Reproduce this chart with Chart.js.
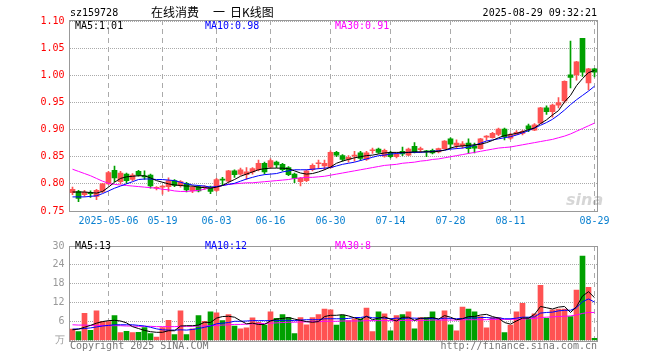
<!DOCTYPE html>
<html>
<head>
<meta charset="utf-8">
<script src="https://cdn.jsdelivr.net/npm/chart.js@4/dist/chart.umd.min.js"></script>
<style>
  body { margin: 0; background: #fff; width: 660px; height: 360px; position: relative; overflow: hidden;
         font-family: "DejaVu Sans Mono", monospace; font-size: 10px; }
  canvas { position: absolute; left: 0; }
  .t { position: absolute; line-height: 12px; height: 12px; white-space: pre; }
  .cjk { font-family: "Noto Sans CJK SC", sans-serif; font-size: 12px; }
</style>
</head>
<body>
<canvas id="kline" width="660" height="235" style="top:0"></canvas>
<canvas id="vol" width="660" height="125" style="top:235px"></canvas>

<div class="t" style="left:70px;top:7px">sz159728</div>
<div class="t cjk" style="left:151px;top:6px">在线消费</div>
<div class="t cjk" style="left:213px;top:6px">一</div>
<div class="t cjk" style="left:230px;top:6px">日K线图</div>
<div class="t" style="right:63px;top:7px">2025-08-29 09:32:21</div>

<div class="t" style="left:75px;top:20px;color:#000">MA5:1.01</div>
<div class="t" style="left:205px;top:20px;color:#0000ff">MA10:0.98</div>
<div class="t" style="left:335px;top:20px;color:#ff00ff">MA30:0.91</div>

<div class="t" style="left:75px;top:240px;color:#000">MA5:13</div>
<div class="t" style="left:205px;top:240px;color:#0000ff">MA10:12</div>
<div class="t" style="left:335px;top:240px;color:#ff00ff">MA30:8</div>

<div class="t" style="left:70px;top:340px;color:#777">Copyright 2025 SINA.COM</div>
<div class="t" style="right:63px;top:340px;color:#777">http://finance.sina.com.cn</div>

<div class="t" style="left:566px;top:190px;height:18px;line-height:18px;font:italic bold 16px 'DejaVu Sans',sans-serif;color:rgba(120,120,120,0.3)">sina</div>

<script>
// x axis: one category per trading day, labels only at these days
const tickIdx = [6, 15, 24, 33, 43, 53, 63, 73, 87];
const tickLabels = ['2025-05-06', '05-19', '06-03', '06-16', '06-30', '07-14', '07-28', '08-11', '08-29'];
const priceTicks = [0.75, 0.80, 0.85, 0.90, 0.95, 1.00, 1.05, 1.10];
const volTicks = [0, 6, 12, 18, 24, 30];

const open = [
  .784,.786,.780,.784,.777,.786,.800,.825,.804,.818,
  .808,.823,.815,.816,.792,.794,.795,.806,.797,.801,
  .787,.795,.793,.794,.788,.808,.805,.824,.818,.817,
  .822,.826,.838,.831,.840,.836,.830,.818,.804,.806,
  .826,.837,.833,.830,.858,.852,.845,.851,.857,.845,
  .861,.864,.851,.858,.850,.860,.853,.869,.863,.860,
  .862,.859,.865,.883,.871,.870,.875,.870,.865,.886,
  .885,.891,.901,.884,.891,.893,.907,.899,.912,.940,
  .933,.945,.953,1.001,1.001,1.068,.986,1.012
];
const high = [
  .794,.788,.788,.787,.790,.801,.823,.833,.823,.820,
  .819,.825,.824,.818,.795,.797,.811,.808,.806,.803,
  .796,.797,.797,.796,.810,.812,.825,.826,.829,.830,
  .830,.844,.840,.846,.842,.838,.832,.820,.812,.826,
  .837,.844,.844,.861,.860,.854,.852,.860,.860,.860,
  .866,.866,.864,.860,.857,.868,.866,.876,.868,.862,
  .864,.866,.880,.885,.881,.878,.883,.875,.884,.889,
  .895,.903,.903,.893,.898,.899,.910,.911,.941,.944,
  .947,.959,.990,1.063,1.026,1.068,1.013,1.013
];
const low = [
  .780,.767,.777,.775,.771,.784,.799,.804,.800,.801,
  .806,.814,.808,.792,.789,.781,.786,.795,.794,.785,
  .784,.785,.790,.782,.786,.798,.803,.812,.816,.808,
  .818,.824,.818,.829,.830,.824,.815,.802,.796,.804,
  .824,.828,.826,.829,.850,.842,.840,.842,.843,.843,
  .856,.856,.849,.848,.848,.852,.852,.857,.858,.850,
  .855,.857,.864,.865,.865,.866,.856,.857,.864,.880,
  .884,.889,.881,.882,.891,.890,.896,.898,.911,.928,
  .923,.940,.949,.977,.991,.998,.973,.997
];
const close = [
  .790,.773,.785,.782,.788,.800,.821,.811,.820,.806,
  .816,.816,.813,.796,.793,.796,.806,.797,.804,.789,
  .794,.787,.794,.786,.808,.807,.824,.817,.826,.822,
  .828,.838,.822,.843,.835,.826,.817,.810,.810,.824,
  .834,.838,.838,.858,.853,.845,.849,.852,.847,.857,
  .862,.858,.862,.850,.855,.855,.864,.859,.864,.859,
  .857,.865,.879,.873,.875,.874,.865,.866,.883,.887,
  .893,.901,.887,.891,.895,.897,.901,.909,.940,.933,
  .945,.950,.989,.996,1.025,1.006,1.012,1.006
];
const ma5 = [
  .785,.785,.785,.784,.783,.786,.794,.803,.810,.813,
  .814,.815,.815,.811,.806,.803,.800,.798,.797,.796,
  .796,.794,.793,.792,.794,.797,.803,.808,.814,.818,
  .822,.826,.828,.829,.829,.829,.828,.824,.820,.818,
  .819,.822,.826,.831,.838,.842,.845,.848,.850,.852,
  .853,.855,.857,.858,.858,.858,.858,.859,.859,.859,
  .859,.860,.862,.866,.869,.870,.871,.872,.873,.876,
  .880,.885,.889,.891,.893,.896,.900,.903,.911,.918,
  .927,.935,.951,.963,.981,.994,1.005,1.009
];
const ma10 = [
  .776,.776,.776,.777,.778,.782,.787,.792,.796,.800,
  .804,.808,.809,.809,.808,.808,.807,.806,.803,.800,
  .798,.797,.796,.794,.795,.797,.799,.801,.805,.809,
  .812,.815,.817,.818,.819,.822,.824,.826,.826,.826,
  .827,.828,.829,.830,.833,.836,.838,.840,.843,.846,
  .849,.852,.853,.855,.856,.857,.858,.858,.858,.859,
  .860,.861,.862,.864,.865,.866,.868,.871,.875,.879,
  .881,.883,.885,.887,.890,.894,.898,.903,.908,.913,
  .919,.927,.936,.946,.955,.963,.971,.980
];
const ma30 = [
  .827,.823,.819,.815,.810,.805,.801,.799,.798,.797,
  .796,.795,.794,.793,.792,.790,.789,.787,.786,.786,
  .787,.788,.790,.793,.795,.797,.799,.800,.801,.802,
  .802,.803,.804,.805,.806,.807,.808,.810,.811,.812,
  .812,.813,.814,.816,.818,.820,.822,.824,.826,.828,
  .830,.832,.834,.835,.836,.838,.839,.840,.842,.843,
  .845,.846,.848,.850,.852,.854,.856,.858,.860,.862,
  .864,.866,.867,.868,.870,.872,.874,.876,.878,.880,
  .882,.885,.888,.892,.897,.902,.907,.912
];

// volume in 万
const volume = [
  3.6,2.8,8.6,3.2,9.4,6.1,6.0,7.9,2.5,2.9,
  2.5,2.6,4.1,2.2,1.1,4.1,6.4,1.9,9.4,1.9,
  3.7,7.9,6.1,9.1,8.8,6.3,8.2,4.6,3.7,4.0,
  7.2,5.8,4.9,9.1,7.0,8.2,7.3,2.2,7.3,5.0,
  7.3,8.2,10.0,9.7,4.9,8.1,6.3,6.9,6.9,10.3,
  2.8,9.1,8.5,3.1,7.9,8.2,9.1,3.7,7.3,7.3,
  9.1,6.4,9.4,5.0,3.1,10.6,10.0,9.1,7.6,4.0,
  7.3,7.3,2.5,4.9,9.1,11.8,7.3,8.5,17.5,7.0,
  9.7,10.0,10.0,7.6,16.0,26.8,16.9,0.7
];
const vma5 = [
  3.4,3.6,4.2,4.8,5.5,6.0,6.3,6.4,6.2,5.6,
  4.4,3.8,3.2,2.8,2.6,2.6,3.1,3.1,4.6,4.7,
  4.7,4.9,5.8,5.7,7.1,7.6,7.7,7.4,6.3,5.3,
  5.5,5.1,5.1,6.2,6.8,7.0,7.3,6.8,6.4,6.0,
  5.8,6.0,7.6,8.0,8.0,8.2,7.8,7.2,6.6,7.7,
  6.6,7.1,7.5,6.8,6.2,7.4,7.4,6.4,7.1,7.1,
  7.3,6.8,7.9,7.4,6.6,6.9,7.6,7.6,8.1,8.3,
  7.6,7.1,5.7,5.2,6.2,7.1,7.1,8.3,10.8,10.4,
  10.0,10.6,10.8,8.9,10.7,14.1,15.5,13.6
];
const vma10 = [
  3.6,3.7,3.8,4.0,4.3,4.6,4.8,5.0,5.0,5.0,
  5.0,4.8,4.6,4.2,3.7,3.4,3.3,3.3,3.4,3.3,
  3.5,3.8,4.2,4.6,5.3,5.5,5.7,6.1,6.1,6.2,
  6.3,6.3,6.3,6.3,6.3,6.4,6.4,6.3,6.5,6.6,
  6.6,6.6,6.9,6.9,6.9,6.9,7.0,7.3,7.3,7.6,
  7.2,7.2,7.1,6.9,7.1,7.0,7.1,7.1,7.0,7.0,
  7.0,6.8,7.1,7.0,6.9,7.0,7.2,7.1,7.3,7.3,
  7.1,7.2,6.9,6.9,7.1,7.4,7.4,7.5,8.7,8.9,
  9.0,9.4,9.6,9.6,10.4,12.3,13.2,12.2
];
const vma30 = [
  5.0,4.9,4.9,4.8,4.8,4.8,4.7,4.7,4.7,4.6,
  4.6,4.5,4.5,4.5,4.4,4.4,4.4,4.4,4.5,4.5,
  4.5,4.6,4.6,4.7,4.8,4.9,5.0,5.1,5.1,5.2,
  5.3,5.4,5.4,5.5,5.6,5.7,5.8,5.8,5.9,5.9,
  6.0,6.0,6.1,6.1,6.1,6.2,6.2,6.2,6.2,6.3,
  6.3,6.3,6.3,6.3,6.3,6.4,6.4,6.4,6.4,6.4,
  6.5,6.5,6.5,6.5,6.5,6.6,6.6,6.6,6.6,6.6,
  6.7,6.7,6.7,6.7,6.8,6.8,6.9,7.0,7.3,7.4,
  7.5,7.6,7.7,7.8,8.1,8.6,8.9,8.9
];

const days = open.map((_, i) => i);
const UP = '#ff5252';
const DOWN = '#00a000';
const colors = close.map((c, i) => c >= open[i] ? UP : DOWN);

const MONO = { family: 'DejaVu Sans Mono', size: 10 };

// grey box around each plot
const frame = {
  id: 'frame',
  beforeDatasetsDraw(chart) {
    const { ctx, chartArea: a } = chart;
    ctx.save();
    ctx.strokeStyle = '#999';
    ctx.lineWidth = 1;
    ctx.strokeRect(Math.floor(a.left) + 0.5, Math.floor(a.top) + 0.5,
                   Math.round(a.right - a.left), Math.round(a.bottom - a.top));
    ctx.restore();
  }
};

function maLine(data, color) {
  return { type: 'line', data: data, borderColor: color, borderWidth: 1,
           pointRadius: 0, tension: 0, order: 0 };
}

function xScale(showLabels, height) {
  return {
    offset: true,
    grid: {
      offset: false,
      drawTicks: false,
      color: ctx => tickIdx.includes(ctx.index) ? '#aaa' : 'rgba(0,0,0,0)',
      lineWidth: 1
    },
    border: { display: false, dash: [5, 4] },
    ticks: {
      display: showLabels,
      autoSkip: false,
      maxRotation: 0,
      padding: 4,
      color: '#0a80d0',
      font: MONO,
      callback: (v, i) => {
        const k = tickIdx.indexOf(i);
        return k >= 0 ? tickLabels[k] : '';
      }
    },
    afterFit: s => { s.height = height; }
  };
}

new Chart(document.getElementById('kline'), {
  type: 'bar',
  data: {
    labels: days,
    datasets: [
      maLine(ma5, '#000000'),
      maLine(ma10, '#0000ff'),
      maLine(ma30, '#ff00ff'),
      { data: open.map((o, i) => [o, close[i]]), backgroundColor: colors,
        barThickness: 5, minBarLength: 1, grouped: false, order: 1 },
      { data: low.map((l, i) => [l, high[i]]), backgroundColor: colors,
        barThickness: 1, grouped: false, order: 2 }
    ]
  },
  options: {
    responsive: false,
    animation: false,
    devicePixelRatio: 1,
    layout: { padding: { top: 20, right: 62.5, left: 0, bottom: 0 } },
    plugins: { legend: { display: false }, tooltip: { enabled: false } },
    scales: {
      x: xScale(true, 24),
      y: {
        min: 0.75,
        max: 1.102,
        afterBuildTicks: s => { s.ticks = priceTicks.map(v => ({ value: v })); },
        afterFit: s => { s.width = 69.5; },
        grid: { color: '#aaa', drawTicks: false, lineWidth: 1 },
        border: { display: false, dash: [1, 1] },
        ticks: { color: '#ff0000', font: MONO, padding: 5, autoSkip: false,
                 callback: v => v.toFixed(2) }
      }
    }
  },
  plugins: [frame]
});

new Chart(document.getElementById('vol'), {
  type: 'bar',
  data: {
    labels: days,
    datasets: [
      maLine(vma5, '#000000'),
      maLine(vma10, '#0000ff'),
      maLine(vma30, '#ff00ff'),
      { data: volume, backgroundColor: colors, barThickness: 5,
        grouped: false, order: 1 }
    ]
  },
  options: {
    responsive: false,
    animation: false,
    devicePixelRatio: 1,
    layout: { padding: { top: 5.5, right: 62.5, left: 0, bottom: 19.5 } },
    plugins: { legend: { display: false }, tooltip: { enabled: false } },
    scales: {
      x: xScale(false, 0),
      y: {
        min: 0,
        max: 30,
        afterBuildTicks: s => { s.ticks = volTicks.map(v => ({ value: v })); },
        afterFit: s => { s.width = 69.5; },
        grid: { color: '#aaa', drawTicks: false, lineWidth: 1 },
        border: { display: false, dash: [1, 1] },
        ticks: { color: '#999', font: MONO, padding: 5, autoSkip: false,
                 callback: v => v === 0 ? '万' : String(v) }
      }
    }
  },
  plugins: [frame]
});
</script>
</body>
</html>
